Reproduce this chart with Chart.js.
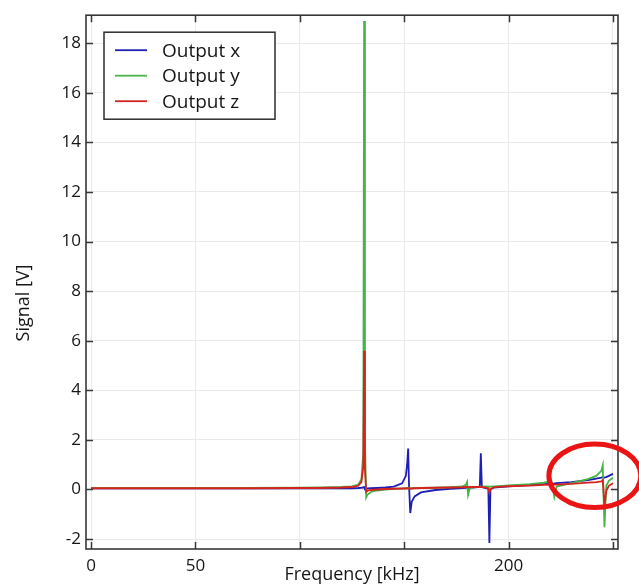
<!DOCTYPE html>
<html lang="en">
  <head>
    <meta charset="utf-8" />
    <title>Signal vs frequency</title>
    <style>
      * {
        margin: 0;
        padding: 0;
      }
      body {
        background: white;
      }
      .chartBox {
        width: 639px;
        height: 587px;
        position: relative;
      }
    </style>
  </head>
  <body>
    <div class="chartBox">
      <canvas id="myChart"></canvas>
    </div>

    <script src="https://cdn.jsdelivr.net/npm/chart.js@4.4.0/dist/chart.umd.min.js"></script>

    <script>
      // data block
      const freq = [
        0, 25, 50, 75, 100, 110, 120, 125, 128, 129.5, 130.4, 130.8, 131.2,
        131.8, 132.5, 134, 137, 141, 145, 149, 150.8, 151.4, 151.9, 152.3,
        152.9, 153.6, 155, 158, 165, 172, 178, 179.6, 180.1, 180.6, 181.3, 183,
        186.2, 186.7, 187.2, 189, 190.3, 190.8, 191.3, 193, 200, 210, 217,
        220.5, 221.9, 223, 230, 238, 242, 244.4, 245.1, 245.9, 246.8, 248, 250,
      ];
      const outputX = [
        0.05, 0.05, 0.05, 0.05, 0.05, 0.05, 0.05, 0.05, 0.06, 0.07, 0.08, 0.1,
        0.02, 0.03, 0.04, 0.05, 0.06, 0.08, 0.12, 0.25, 0.55, 1.0, 1.65, 0.2,
        -0.95, -0.5, -0.28, -0.12, -0.02, 0.03, 0.06, 0.07, 0.07, 0.07, 0.07,
        0.08, 0.1, 1.46, 0.1, 0.06, 0.02, -2.16, 0.0, 0.08, 0.13, 0.18, 0.22,
        0.24, 0.25, 0.26, 0.3, 0.38, 0.44, 0.48, 0.5, 0.48, 0.5, 0.55, 0.63,
      ];
      const outputY = [
        0.06, 0.06, 0.06, 0.06, 0.07, 0.08, 0.1, 0.13, 0.2, 0.4, 1.5, 18.9, 2.0,
        -0.32, -0.2, -0.1, -0.04, 0.0, 0.03, 0.04, 0.05, 0.05, 0.05, 0.05, 0.05,
        0.05, 0.06, 0.06, 0.07, 0.09, 0.12, 0.2, 0.3, -0.22, 0.02, 0.09, 0.11,
        0.11, 0.11, 0.12, 0.12, 0.1, 0.12, 0.13, 0.17, 0.22, 0.28, 0.36, -0.3,
        0.12, 0.26, 0.42, 0.55, 0.75, 0.98, -1.52, 0.15, 0.35, 0.47,
      ];
      const outputZ = [
        0.05, 0.05, 0.05, 0.05, 0.06, 0.06, 0.08, 0.1, 0.15, 0.3, 0.9, 5.6, 0.8,
        -0.1, -0.05, -0.02, 0.0, 0.02, 0.03, 0.04, 0.04, 0.05, 0.05, 0.04, 0.03,
        0.04, 0.05, 0.06, 0.07, 0.08, 0.09, 0.1, 0.1, 0.09, 0.1, 0.1, 0.1, 0.1,
        0.1, 0.08, 0.05, -0.12, 0.02, 0.1, 0.13, 0.16, 0.19, 0.2, 0.2, 0.2,
        0.23, 0.28, 0.3, 0.33, 0.38, -0.65, -0.05, 0.15, 0.25,
      ];
      const seriesNames = ["Output x", "Output y", "Output z"];
      const seriesColors = ["rgb(30, 30, 180)", "rgb(70, 180, 70)", "rgb(215, 35, 30)"];
      const xTicks = [0, 50, 100, 150, 200, 250];
      const xTickLabels = ["0", "50", "", "", "200", ""];
      const yTicks = [-2, 0, 2, 4, 6, 8, 10, 12, 14, 16, 18];

      // marked region (data units)
      const mark = { x: 241.3, y: 0.55, rx: 22, ry: 1.28 };

      const FONT = "'Open Sans', 'Noto Sans', sans-serif";
      const INK = "rgb(22, 22, 22)";

      const toPoints = (vals) => freq.map((f, i) => ({ x: f, y: vals[i] }));

      const data = {
        datasets: [outputX, outputY, outputZ].map((vals, i) => ({
          label: seriesNames[i],
          data: toPoints(vals),
          borderColor: seriesColors[i],
          backgroundColor: seriesColors[i],
          borderWidth: 1.8,
          pointRadius: 0,
          tension: 0,
          order: 2 - i,
        })),
      };

      // frame, inward ticks, axis titles, legend, marked ellipse
      const decorations = {
        id: "decorations",
        afterDraw(chart) {
          const {
            ctx,
            chartArea: { top, bottom, left, right },
            scales: { x, y },
          } = chart;
          ctx.save();

          // frame
          ctx.strokeStyle = "rgb(55, 55, 55)";
          ctx.lineWidth = 1.6;
          ctx.strokeRect(left, top, right - left, bottom - top);

          // inward ticks
          const tl = 7;
          ctx.lineWidth = 1.5;
          ctx.beginPath();
          xTicks.forEach((v) => {
            const px = Math.round(x.getPixelForValue(v)) + 0.5;
            ctx.moveTo(px, bottom);
            ctx.lineTo(px, bottom - tl);
            ctx.moveTo(px, top);
            ctx.lineTo(px, top + tl);
          });
          yTicks.forEach((v) => {
            const py = Math.round(y.getPixelForValue(v)) + 0.5;
            ctx.moveTo(left, py);
            ctx.lineTo(left + tl, py);
            ctx.moveTo(right, py);
            ctx.lineTo(right - tl, py);
          });
          ctx.stroke();

          // axis titles
          ctx.fillStyle = INK;
          ctx.font = "18px " + FONT;
          ctx.textAlign = "center";
          ctx.textBaseline = "middle";
          ctx.fillText("Frequency [kHz]", (left + right) / 2, 575);
          ctx.save();
          ctx.translate(24, 303);
          ctx.rotate(-Math.PI / 2);
          ctx.fillText("Signal [V]", 0, 0);
          ctx.restore();

          // legend box
          const lx = left + 18, ly = top + 17, lw = 171, lh = 87;
          ctx.fillStyle = "white";
          ctx.fillRect(lx, ly, lw, lh);
          ctx.strokeStyle = "rgb(45, 45, 45)";
          ctx.lineWidth = 1.5;
          ctx.strokeRect(lx, ly, lw, lh);
          ctx.font = "19px " + FONT;
          ctx.textAlign = "left";
          seriesNames.forEach((name, i) => {
            const ry = ly + 18 + i * 25.5;
            ctx.strokeStyle = seriesColors[i];
            ctx.lineWidth = 1.8;
            ctx.beginPath();
            ctx.moveTo(lx + 11, ry);
            ctx.lineTo(lx + 43, ry);
            ctx.stroke();
            ctx.fillStyle = INK;
            ctx.fillText(name, lx + 58, ry + 1);
          });

          // marked region
          const cx = x.getPixelForValue(mark.x);
          const cy = y.getPixelForValue(mark.y);
          const rx = x.getPixelForValue(mark.x + mark.rx) - cx;
          const ryy = cy - y.getPixelForValue(mark.y + mark.ry);
          ctx.strokeStyle = "rgb(235, 20, 20)";
          ctx.lineWidth = 5;
          ctx.beginPath();
          ctx.ellipse(cx, cy, rx, ryy, 0, 0, Math.PI * 2);
          ctx.stroke();

          ctx.restore();
        },
      };

      // config block
      const config = {
        type: "line",
        data: data,
        options: {
          responsive: true,
          maintainAspectRatio: false,
          animation: false,
          layout: { padding: { top: 11, right: 21, left: 0, bottom: 0 } },
          plugins: {
            legend: { display: false },
            tooltip: { enabled: false },
          },
          scales: {
            x: {
              type: "linear",
              min: -2.4,
              max: 252.4,
              afterFit: (s) => {
                s.height = 38;
              },
              afterBuildTicks: (s) => {
                s.ticks = xTicks.map((v) => ({ value: v }));
              },
              grid: { color: "rgb(234, 234, 234)", drawTicks: false },
              border: { display: false },
              ticks: {
                autoSkip: false,
                maxRotation: 0,
                padding: 7,
                color: INK,
                font: { family: FONT, size: 17 },
                callback: (v) => xTickLabels[xTicks.indexOf(v)],
              },
            },
            y: {
              min: -2.4,
              max: 19.13,
              afterFit: (s) => {
                s.width = 86;
              },
              afterBuildTicks: (s) => {
                s.ticks = yTicks.map((v) => ({ value: v }));
              },
              grid: { color: "rgb(234, 234, 234)", drawTicks: false },
              border: { display: false },
              ticks: {
                autoSkip: false,
                padding: 5,
                color: INK,
                font: { family: FONT, size: 17 },
              },
            },
          },
        },
        plugins: [decorations],
      };

      // init render block
      const myChart = new Chart(document.getElementById("myChart"), config);
    </script>
  </body>
</html>
